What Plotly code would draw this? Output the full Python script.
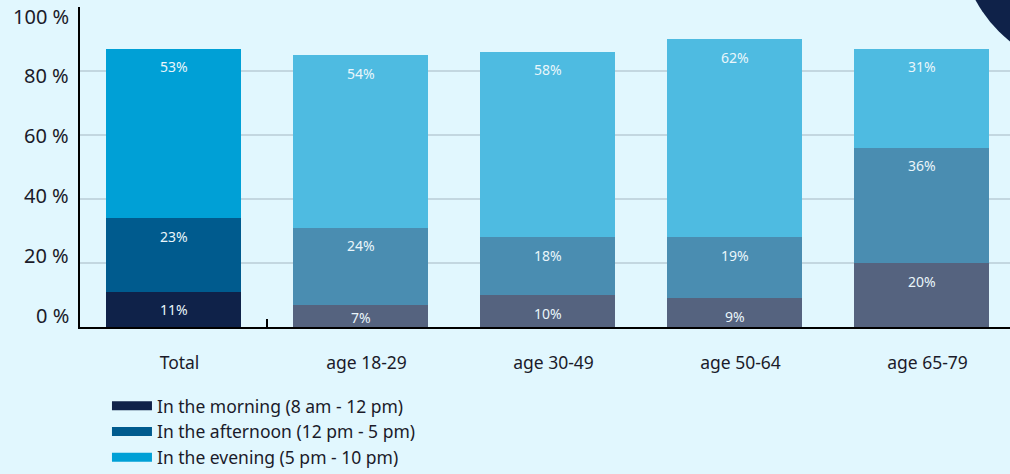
import plotly.graph_objects as go

categories = ["Total", "age 18-29", "age 30-49", "age 50-64", "age 65-79"]
morning = [11, 7, 10, 9, 20]
afternoon = [23, 24, 18, 19, 36]
evening = [53, 54, 58, 62, 31]
series_names = ["In the morning (8 am - 12 pm)",
                "In the afternoon (12 pm - 5 pm)",
                "In the evening (5 pm - 10 pm)"]
y_ticks = [0, 20, 40, 60, 80, 100]

vivid = ["#0f2249", "#005b8e", "#00a0d6"]
muted = ["#55637f", "#4a8db1", "#4ebbe1"]
BG = "#e1f7fe"
TEXT = "#1b1b2a"
PX_PER_UNIT = 320 / 100.0

fig = go.Figure()
series = [morning, afternoon, evening]
for i, vals in enumerate(series):
    colors = [vivid[i]] + [muted[i]] * (len(categories) - 1)
    fig.add_trace(go.Bar(x=categories, y=vals, marker=dict(color=colors, line=dict(width=0)),
                         showlegend=False, hoverinfo="skip"))

# value labels near the top of each segment
base = [0] * len(categories)
for vals in series:
    for j, v in enumerate(vals):
        top = base[j] + v
        off_px = min(18, v * PX_PER_UNIT - 10)
        fig.add_annotation(x=categories[j], y=top, yshift=-off_px, text=f"{v}%",
                           showarrow=False, font=dict(family="Noto Sans", size=14, color="#eaf6fb"),
                           xref="x", yref="y")
        base[j] = top

# y tick labels (slightly compressed relative to gridlines, as in the original)
for t in y_ticks:
    fig.add_annotation(x=0, y=t, xref="paper", yref="y", xanchor="right", xshift=-9,
                       yshift=-(9 - (100 - t) * 0.21), text=f"{t} %", showarrow=False,
                       font=dict(family="Noto Sans", size=20, color=TEXT))

# legend entries
for i, name in enumerate(series_names):
    fig.add_trace(go.Scatter(x=[None], y=[None], mode="lines", name=name,
                             line=dict(color=vivid[i], width=9)))

fig.add_shape(type="line", xref="x", yref="y", x0=0.5, x1=0.5, y0=0, y1=8,
              ysizemode="pixel", yanchor=0, line=dict(color="black", width=2))

fig.add_shape(type="circle", xref="paper", yref="paper", xsizemode="pixel", ysizemode="pixel",
              xanchor=1, yanchor=1, x0=-50, x1=214, y0=-63, y1=201,
              fillcolor="#0f2249", line=dict(width=0), layer="above")

fig.update_layout(
    width=1010, height=474,
    margin=dict(l=80, r=0, t=7, b=147, autoexpand=False),
    paper_bgcolor=BG, plot_bgcolor=BG,
    barmode="stack", bargap=0.278,
    xaxis=dict(range=[-0.5, -0.5 + 930 / 187], showgrid=False, showline=True,
               linecolor="black", linewidth=2, ticks="", ticklabelstandoff=19,
               ticklabelshift=6,
               tickfont=dict(family="Noto Sans", size=17.5, color=TEXT)),
    yaxis=dict(range=[0, 100], tickvals=y_ticks, showticklabels=False, showgrid=True,
               gridcolor="#c3d7e0", gridwidth=1.5, showline=True, linecolor="black",
               linewidth=2, zeroline=False, ticks=""),
    legend=dict(x=0.029, y=-0.19, xanchor="left", yanchor="top", orientation="v",
                traceorder="normal", itemwidth=40,
                font=dict(family="Noto Sans", size=17.5, color=TEXT),
                bgcolor="rgba(0,0,0,0)"),
)

fig.write_html("out.html", config={"displayModeBar": False},
               post_script="document.body.style.margin='0';")
